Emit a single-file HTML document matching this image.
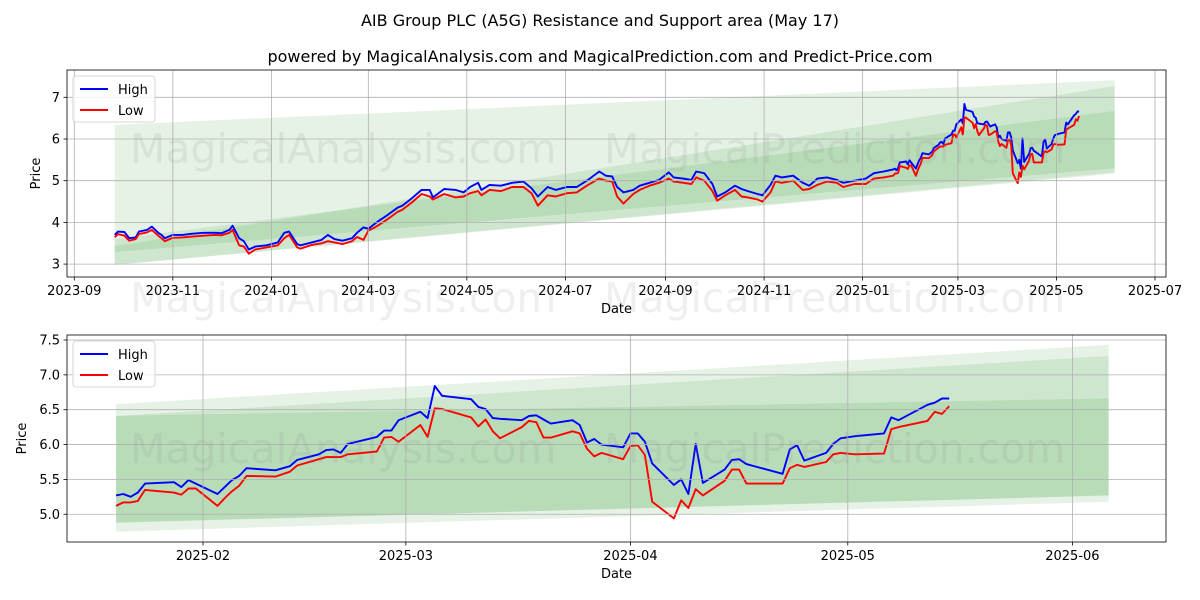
<!DOCTYPE html>
<html><head><meta charset="utf-8"><title>AIB Group PLC (A5G) Resistance and Support area</title>
<style>
html,body{margin:0;padding:0;background:#fff;}
svg{display:block;font-family:"DejaVu Sans","Liberation Sans",sans-serif;}
</style></head>
<body>
<svg id="fig" width="1200" height="600" viewBox="0 0 1200 600" xmlns="http://www.w3.org/2000/svg">
<rect width="1200" height="600" fill="#fff"/>
<text x="600" y="26" text-anchor="middle" font-size="16">AIB Group PLC (A5G) Resistance and Support area (May 17)</text>
<text x="600" y="62" text-anchor="middle" font-size="16">powered by MagicalAnalysis.com and MagicalPrediction.com and Predict-Price.com</text>
<g id="top"></g>
<g id="bottom"></g>
</svg>
<script>
// ---- older (pre 2025-01-20) data for top chart ----
const oldDates = ["2023-09-26","2023-09-28","2023-10-02","2023-10-05","2023-10-09","2023-10-11","2023-10-16","2023-10-19","2023-10-23","2023-10-25","2023-10-27","2023-11-01","2023-11-07","2023-11-13","2023-11-20","2023-11-27","2023-12-01","2023-12-06","2023-12-08","2023-12-12","2023-12-15","2023-12-18","2023-12-22","2023-12-29","2024-01-05","2024-01-09","2024-01-12","2024-01-17","2024-01-19","2024-01-26","2024-02-01","2024-02-05","2024-02-09","2024-02-14","2024-02-20","2024-02-23","2024-02-27","2024-03-01","2024-03-05","2024-03-08","2024-03-13","2024-03-19","2024-03-22","2024-03-28","2024-04-03","2024-04-08","2024-04-10","2024-04-17","2024-04-24","2024-04-29","2024-05-03","2024-05-08","2024-05-10","2024-05-15","2024-05-22","2024-05-29","2024-06-05","2024-06-10","2024-06-14","2024-06-20","2024-06-25","2024-07-02","2024-07-08","2024-07-15","2024-07-22","2024-07-26","2024-07-30","2024-08-02","2024-08-06","2024-08-12","2024-08-16","2024-08-22","2024-08-28","2024-09-03","2024-09-06","2024-09-12","2024-09-17","2024-09-20","2024-09-25","2024-09-30","2024-10-03","2024-10-08","2024-10-14","2024-10-18","2024-10-22","2024-10-28","2024-10-31","2024-11-05","2024-11-08","2024-11-12","2024-11-19","2024-11-25","2024-11-29","2024-12-04","2024-12-10","2024-12-16","2024-12-20","2024-12-27","2025-01-03","2025-01-08","2025-01-14"];
const oldHigh = [3.70,3.78,3.77,3.62,3.64,3.78,3.82,3.90,3.75,3.70,3.62,3.70,3.70,3.73,3.75,3.75,3.74,3.82,3.92,3.62,3.55,3.35,3.42,3.45,3.52,3.75,3.78,3.48,3.45,3.52,3.58,3.70,3.60,3.56,3.62,3.75,3.88,3.85,3.97,4.05,4.18,4.35,4.40,4.58,4.78,4.78,4.60,4.80,4.78,4.72,4.85,4.95,4.78,4.90,4.88,4.95,4.98,4.82,4.62,4.85,4.78,4.85,4.85,5.02,5.22,5.12,5.10,4.85,4.72,4.78,4.88,4.95,5.02,5.20,5.08,5.05,5.02,5.22,5.18,4.92,4.62,4.72,4.88,4.80,4.75,4.68,4.65,4.90,5.12,5.08,5.12,4.95,4.88,5.05,5.08,5.02,4.95,5.00,5.05,5.18,5.22];
const oldLow = [3.64,3.72,3.68,3.56,3.60,3.72,3.76,3.82,3.68,3.62,3.55,3.63,3.64,3.66,3.68,3.70,3.69,3.75,3.82,3.45,3.42,3.25,3.35,3.40,3.45,3.62,3.70,3.40,3.37,3.46,3.50,3.55,3.52,3.48,3.55,3.65,3.58,3.80,3.88,3.95,4.08,4.25,4.30,4.48,4.68,4.62,4.55,4.68,4.60,4.62,4.70,4.75,4.65,4.78,4.75,4.85,4.85,4.70,4.40,4.65,4.62,4.70,4.72,4.90,5.05,5.00,4.98,4.62,4.45,4.68,4.78,4.88,4.95,5.05,4.98,4.95,4.92,5.08,5.00,4.75,4.52,4.65,4.78,4.62,4.60,4.55,4.50,4.72,4.98,4.95,5.00,4.78,4.80,4.90,4.98,4.95,4.85,4.92,4.92,5.05,5.08];
// ---- recent data (both charts) ----
const recentDates = ["2025-01-20","2025-01-21","2025-01-22","2025-01-23","2025-01-24","2025-01-28","2025-01-29","2025-01-30","2025-01-31","2025-02-03","2025-02-04","2025-02-05","2025-02-06","2025-02-07","2025-02-11","2025-02-13","2025-02-14","2025-02-17","2025-02-18","2025-02-19","2025-02-20","2025-02-21","2025-02-25","2025-02-26","2025-02-27","2025-02-28","2025-03-03","2025-03-04","2025-03-05","2025-03-06","2025-03-10","2025-03-11","2025-03-12","2025-03-13","2025-03-14","2025-03-17","2025-03-18","2025-03-19","2025-03-20","2025-03-21","2025-03-24","2025-03-25","2025-03-26","2025-03-27","2025-03-28","2025-03-31","2025-04-01","2025-04-02","2025-04-03","2025-04-04","2025-04-07","2025-04-08","2025-04-09","2025-04-10","2025-04-11","2025-04-14","2025-04-15","2025-04-16","2025-04-17","2025-04-22","2025-04-23","2025-04-24","2025-04-25","2025-04-28","2025-04-29","2025-04-30","2025-05-02","2025-05-06","2025-05-07","2025-05-08","2025-05-12","2025-05-13","2025-05-14","2025-05-15"];
const recentHigh = [5.27,5.29,5.25,5.31,5.44,5.46,5.39,5.49,5.44,5.29,5.39,5.49,5.55,5.66,5.63,5.69,5.78,5.86,5.92,5.93,5.88,6.01,6.11,6.20,6.20,6.35,6.47,6.38,6.84,6.70,6.65,6.54,6.51,6.38,6.37,6.35,6.41,6.42,6.36,6.30,6.35,6.28,6.03,6.08,6.00,5.96,6.16,6.16,6.04,5.73,5.42,5.50,5.29,6.01,5.45,5.64,5.78,5.79,5.72,5.58,5.93,5.99,5.77,5.88,6.01,6.09,6.12,6.16,6.39,6.35,6.57,6.60,6.66,6.66];
const recentLow = [5.12,5.17,5.17,5.19,5.35,5.31,5.28,5.37,5.37,5.12,5.23,5.33,5.41,5.55,5.54,5.61,5.70,5.79,5.82,5.82,5.82,5.86,5.90,6.10,6.11,6.04,6.28,6.11,6.52,6.51,6.39,6.26,6.36,6.19,6.09,6.25,6.34,6.32,6.10,6.10,6.19,6.16,5.94,5.83,5.88,5.79,5.98,5.99,5.85,5.18,4.94,5.20,5.09,5.36,5.27,5.48,5.64,5.64,5.44,5.44,5.66,5.71,5.68,5.75,5.86,5.88,5.86,5.87,6.22,6.25,6.34,6.47,6.44,6.55];
// ---- band definitions [topStart, topEnd, botStart, botEnd] ----
const topBandDates = ["2023-09-26","2025-06-06"];
const topBand1 = [6.34,7.41,2.98,5.17];
const topBand2 = [3.43,7.27,2.98,5.20];
const topBand3 = [3.60,6.67,3.29,5.30];
const botBandDates = ["2025-01-20","2025-06-06"];
const botBand1 = [6.58,7.43,4.75,5.18];
const botBand2 = [6.41,7.27,4.88,5.27];
const botBand3 = [6.41,6.66,4.88,5.27];
// ---- ticks ----
const topXTicks = ["2023-09","2023-11","2024-01","2024-03","2024-05","2024-07","2024-09","2024-11","2025-01","2025-03","2025-05","2025-07"];
const topYTicks = [3,4,5,6,7];
const botXTicks = ["2025-02","2025-03","2025-04","2025-05","2025-06"];
const botYTicks = [5.0,5.5,6.0,6.5,7.0,7.5];

const NS="http://www.w3.org/2000/svg";
function mk(tag, attrs, parent){const e=document.createElementNS(NS,tag);for(const k in attrs)e.setAttribute(k,attrs[k]);if(parent)parent.appendChild(e);return e;}
function t(d){const p=d.split("-").map(Number);return Date.UTC(p[0],p[1]-1,p[2]||1)/86400000;}

function drawChart(g, cfg){
  const L=cfg.left,R=cfg.right,T=cfg.top,B=cfg.bottom;
  const X=d=>cfg.x0px+(t(d)-t(cfg.x0date))*cfg.pxPerDay;
  const Y=v=>cfg.yRefPx+(cfg.yRef-v)*cfg.pxPerUnit;
  const cid="clip-"+g.id;
  const defs=mk("defs",{},g);const cp=mk("clipPath",{id:cid},defs);mk("rect",{x:L,y:T,width:R-L,height:B-T},cp);
  const plot=mk("g",{"clip-path":"url(#"+cid+")"},g);
  cfg.bands.forEach((b,i)=>{
    const x1=X(cfg.bandDates[0]),x2=X(cfg.bandDates[1]);
    const p=mk("polygon",{points:`${x1},${Y(b[0])} ${x2},${Y(b[1])} ${x2},${Y(b[3])} ${x1},${Y(b[2])}`,fill:"rgb(0,128,0)","fill-opacity":"0.1"},plot);
    
    
  });
  cfg.yTicks.forEach(v=>{const y=Y(v);
    const gl=mk("line",{x1:L,x2:R,y1:y,y2:y,stroke:"#b0b0b0","stroke-width":0.8},g);
    
    
    mk("line",{x1:L-3.5,x2:L,y1:y,y2:y,stroke:"#000","stroke-width":0.8},g);
    const tx=mk("text",{x:L-7,y:y+4.5,"text-anchor":"end","font-size":13},g);tx.textContent=cfg.yFmt(v);
    
    
  });
  cfg.xTicks.forEach(d=>{const x=X(d);
    const gl=mk("line",{x1:x,x2:x,y1:T,y2:B,stroke:"#b0b0b0","stroke-width":0.8},g);
    
    
    mk("line",{x1:x,x2:x,y1:B,y2:B+3.5,stroke:"#000","stroke-width":0.8},g);
    const tx=mk("text",{x:x,y:B+18,"text-anchor":"middle","font-size":13},g);tx.textContent=d;
    
    
  });
  cfg.watermarks.forEach(w=>{const tx=mk("text",{x:w[0],y:w[1],"font-size":41,fill:"#808080","fill-opacity":"0.13"},g);tx.textContent=w[2];
    
    
  });
  const mkLine=(vals,color,name)=>{
    const pts=cfg.dates.map((d,i)=>X(d).toFixed(1)+","+Y(vals[i]).toFixed(1)).join(" ");
    const pl=mk("polyline",{points:pts,fill:"none",stroke:color,"stroke-width":1.9,"stroke-linejoin":"round"},plot);
    
    
  };
  mkLine(cfg.high,"#0000ff","high-line");
  mkLine(cfg.low,"#ff0000","low-line");
  const fr=mk("rect",{x:L,y:T,width:R-L,height:B-T,fill:"none",stroke:"#000","stroke-width":0.8},g);
  
  
  const xt=mk("text",{x:(L+R)/2,y:B+36,"text-anchor":"middle","font-size":13},g);xt.textContent="Date";
  
  
  const yc=(T+B)/2;
  const yt=mk("text",{x:cfg.yTitleX,y:yc,"text-anchor":"middle","font-size":13,transform:`rotate(-90 ${cfg.yTitleX} ${yc})`},g);yt.textContent="Price";
  
  
  const lg=mk("g",{},g);
  
  
  const lx=L+6,ly=T+6;
  mk("rect",{x:lx,y:ly,width:82,height:46,rx:3,fill:"#fff","fill-opacity":"0.8",stroke:"#cccccc","stroke-width":0.8},lg);
  [["High","#0000ff"],["Low","#ff0000"]].forEach((e,i)=>{
    const ent=mk("g",{},lg);
    
    
    const yy=ly+13+i*21;
    mk("line",{x1:lx+7,x2:lx+35,y1:yy,y2:yy,stroke:e[1],"stroke-width":1.9},ent);
    const tx=mk("text",{x:lx+45,y:yy+5,"font-size":13},ent);tx.textContent=e[0];
  });
}

drawChart(document.getElementById("top"),{
  left:67,right:1166,top:70,bottom:277,
  x0date:"2023-09-01",x0px:74.3,pxPerDay:1.6154,
  yRef:7,yRefPx:97.3,pxPerUnit:41.7,
  dates:oldDates.concat(recentDates),high:oldHigh.concat(recentHigh),low:oldLow.concat(recentLow),
  bandDates:topBandDates,bands:[topBand1,topBand2,topBand3],
  xTicks:topXTicks,yTicks:topYTicks,yFmt:v=>String(v),yTitleX:40,
  watermarks:[[130,163,"MagicalAnalysis.com"],[604,163,"MagicalPrediction.com"],[130,312,"MagicalAnalysis.com"],[604,312,"MagicalPrediction.com"]]
});
drawChart(document.getElementById("bottom"),{
  left:67,right:1166,top:335,bottom:542,
  x0date:"2025-02-01",x0px:203,pxPerDay:7.245,
  yRef:7.5,yRefPx:340,pxPerUnit:69.7,
  dates:recentDates,high:recentHigh,low:recentLow,
  bandDates:botBandDates,bands:[botBand1,botBand2,botBand3],
  xTicks:botXTicks,yTicks:botYTicks,yFmt:v=>v.toFixed(1),yTitleX:26,
  watermarks:[[130,463,"MagicalAnalysis.com"],[604,463,"MagicalPrediction.com"]]
});
</script>
</body></html>
